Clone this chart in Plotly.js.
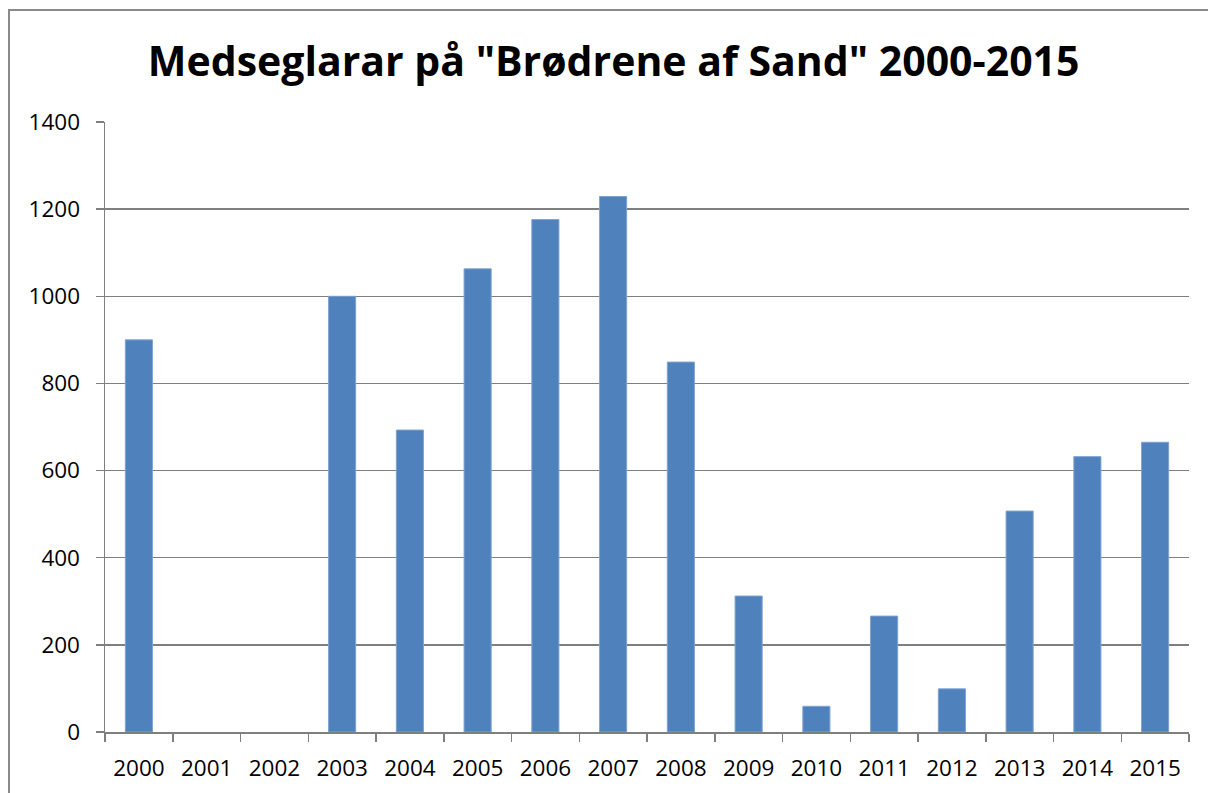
<!DOCTYPE html>
<html>
<head>
<meta charset="utf-8">
<script src="https://cdn.plot.ly/plotly-3.0.1.min.js"></script>
<style>
  html, body { margin: 0; padding: 0; background: #ffffff; overflow: hidden; }
  #chart { width: 1208px; height: 793px; }
  #frame { position: absolute; left: 8px; top: 9px; width: 1400px; height: 1000px;
           border-left: 2px solid #8a8a8a; border-top: 2px solid #8a8a8a; pointer-events: none; }
</style>
</head>
<body>
<div id="chart"></div>
<div id="frame"></div>
<script>
const years = ["2000","2001","2002","2003","2004","2005","2006","2007",
               "2008","2009","2010","2011","2012","2013","2014","2015"];
const medseglarar = [900, null, null, 1000, 693, 1063, 1176, 1229,
                     849, 312, 59, 266, 99, 507, 632, 665];
const chartTitle = 'Medseglarar på "Brødrene af Sand" 2000-2015';

const gridColor = '#7f7f7f';
const tickFont = { family: 'Open Sans, sans-serif', size: 22.5, color: '#000000' };

const trace = {
  type: 'bar',
  x: years,
  y: medseglarar,
  marker: { color: '#4F81BD', line: { color: '#7FA3D0', width: 1 } },
  hoverinfo: 'x+y'
};

const layout = {
  width: 1208,
  height: 793,
  paper_bgcolor: '#ffffff',
  plot_bgcolor: '#ffffff',
  margin: { l: 105, r: 19, t: 122, b: 61, pad: 0 },
  showlegend: false,
  bargap: 0.6,
  title: {
    text: chartTitle,
    font: { family: 'Open Sans, sans-serif', size: 41, color: '#000000', weight: 700 },
    xref: 'container', x: 0.508, xanchor: 'center',
    yref: 'container', y: 1 - 62 / 793, yanchor: 'middle'
  },
  xaxis: {
    type: 'category',
    tickson: 'boundaries',
    ticks: 'outside',
    ticklen: 8,
    tickwidth: 1.5,
    tickcolor: gridColor,
    showline: true,
    linecolor: gridColor,
    linewidth: 1.5,
    showgrid: false,
    tickfont: tickFont,
    ticklabelstandoff: 15,
    fixedrange: true
  },
  yaxis: {
    range: [0, 1400],
    dtick: 200,
    tick0: 0,
    ticks: 'outside',
    ticklen: 8,
    tickwidth: 1.5,
    tickcolor: gridColor,
    showline: true,
    linecolor: gridColor,
    linewidth: 1.5,
    showgrid: true,
    gridcolor: gridColor,
    gridwidth: 1.5,
    zeroline: false,
    tickfont: tickFont,
    ticklabelstandoff: 11,
    fixedrange: true
  }
};

Plotly.newPlot('chart', [trace], layout, { displayModeBar: false, staticPlot: true });
</script>
</body>
</html>
